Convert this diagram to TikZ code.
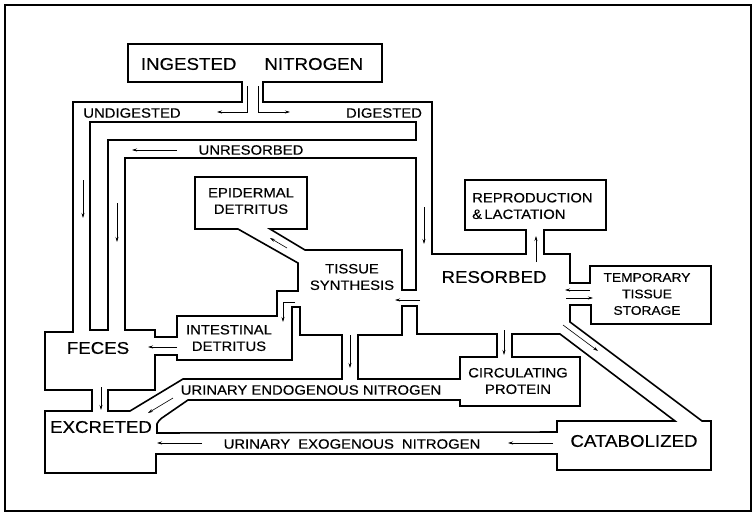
\documentclass[tikz,border=0pt]{standalone}
\usepackage{fontspec}
\newfontfamily\lettering{Liberation Sans}[FakeStretch=1.1,FakeBold=0.4]
\usetikzlibrary{arrows.meta}

\begin{document}
\begin{tikzpicture}[x=1pt,y=-1pt,wall/.style={line width=1.6pt,line join=miter},flow/.style={line width=.6pt,-{Stealth[length=5pt,width=3pt]}},big/.style={font=\lettering\fontsize{17}{20}\selectfont,inner sep=0pt},every node/.style={font=\lettering\fontsize{13.5}{16.5}\selectfont,align=center,inner sep=0pt}]
\useasboundingbox (0,0) rectangle (754,514);
\draw[line width=1.8pt] (5,5) rectangle (751,511);
\draw[wall] (128,82) -- (242,82) -- (242,102) -- (73,102) -- (73,332) -- (45,332) -- (45,390) -- (92,390) -- (92,411) -- (45,411) -- (45,473) -- (156,473) -- (156,454) -- (557,454) -- (557,470) -- (711,470) -- (711,421) -- (702,421) -- (570,322) -- (570,305) -- (591,305) -- (591,324) -- (711,324) -- (711,266) -- (590,266) -- (590,283) -- (570,283) -- (570,254) -- (544,254) -- (544,230) -- (606,230) -- (606,180) -- (465,180) -- (465,230) -- (526,230) -- (526,254) -- (432,254) -- (432,102) -- (263,102) -- (263,82) -- (382,82) -- (382,44) -- (128,44) -- cycle;
\draw[wall] (90,122) -- (416,122) -- (416,140) -- (108,140) -- (108,330) -- (90,330) -- cycle;
\draw[wall] (125,158) -- (416,158) -- (416,290) -- (402,290) -- (402,250) -- (305,250) -- (270,229) -- (307,229) -- (307,177) -- (195,177) -- (195,229) -- (238,229) -- (298,263) -- (298,291) -- (277,291) -- (277,316) -- (177,316) -- (177,337) -- (155,337) -- (155,330) -- (125,330) -- cycle;
\draw[wall] (108,390) -- (108,411) -- (130,411) -- (183,379) -- (342,379) -- (342,335) -- (300,335) -- (300,307) -- (292,307) -- (292,360) -- (177,360) -- (177,355) -- (155,355) -- (155,390) -- cycle;
\draw[wall] (358,335) -- (358,379) -- (460,379) -- (460,357) -- (497,357) -- (497,334) -- (417,334) -- (417,306) -- (402,306) -- (402,335) -- cycle;
\draw[wall] (157,433) -- (157,424) [rounded corners=3pt] -- (159,420) [sharp corners] -- (188,400) -- (460,400) -- (460,406) -- (580,406) -- (580,357) -- (512,357) -- (512,334) -- (560,334) -- (675,421) -- (557,421) -- (557,432) -- cycle;
\node[big] (ingested) at (252,64) {INGESTED\hspace{28pt}NITROGEN};
\node (undigested) at (132,113) {UNDIGESTED};
\node (digested) at (384,113) {DIGESTED};
\node (unresorbed) at (251,150) {UNRESORBED};
\node (epidermal) at (251,201) {EPIDERMAL\\DETRITUS};
\node (synthesis) at (352,277) {TISSUE\\SYNTHESIS};
\node[big] (resorbed) at (494,277) {RESORBED};
\node[align=left,anchor=west] (reproduction) at (472,206) {REPRODUCTION\\\&\,LACTATION};
\node[font=\lettering\fontsize{12.5}{16.5}\selectfont] (storage) at (647,294) {TEMPORARY\\TISSUE\\STORAGE};
\node[big] (feces) at (98,348) {FECES};
\node (intestinal) at (229,338) {INTESTINAL\\DETRITUS};
\node[big] (excreted) at (101,427) {EXCRETED};
\node (endogenous) at (311,390) {URINARY ENDOGENOUS NITROGEN};
\node (circulating) at (518,381) {CIRCULATING\\PROTEIN};
\node (exogenous) at (352,444) {URINARY\hspace{8pt}EXOGENOUS\hspace{8pt}NITROGEN};
\node[big] (catabolized) at (634,441) {CATABOLIZED};
\draw[flow] (247,86) -- (247,112) -- (217,112);
\draw[flow] (258,86) -- (258,112) -- (290,112);
\draw[flow] (83,180) -- (83,218);
\draw[flow] (177,150) -- (132,150);
\draw[flow] (117,203) -- (117,242);
\draw[flow] (424,207) -- (424,244);
\draw[flow] (536,262) -- (536,236);
\draw[flow] (287,248) -- (270,238);
\draw[flow] (590,290) -- (565,290);
\draw[flow] (566,298) -- (593,298);
\draw[flow] (420,300) -- (395,300);
\draw[flow] (295,302) -- (283,302) -- (283,322);
\draw[flow] (177,347) -- (148,347);
\draw[flow] (101,387) -- (101,410);
\draw[flow] (350,335) -- (350,368);
\draw[flow] (504,330) -- (504,355);
\draw[flow] (563,325) -- (598,351);
\draw[flow] (173,398) -- (148,413);
\draw[flow] (202,443) -- (157,443);
\draw[flow] (553,443) -- (508,443);
\end{tikzpicture}
\end{document}
